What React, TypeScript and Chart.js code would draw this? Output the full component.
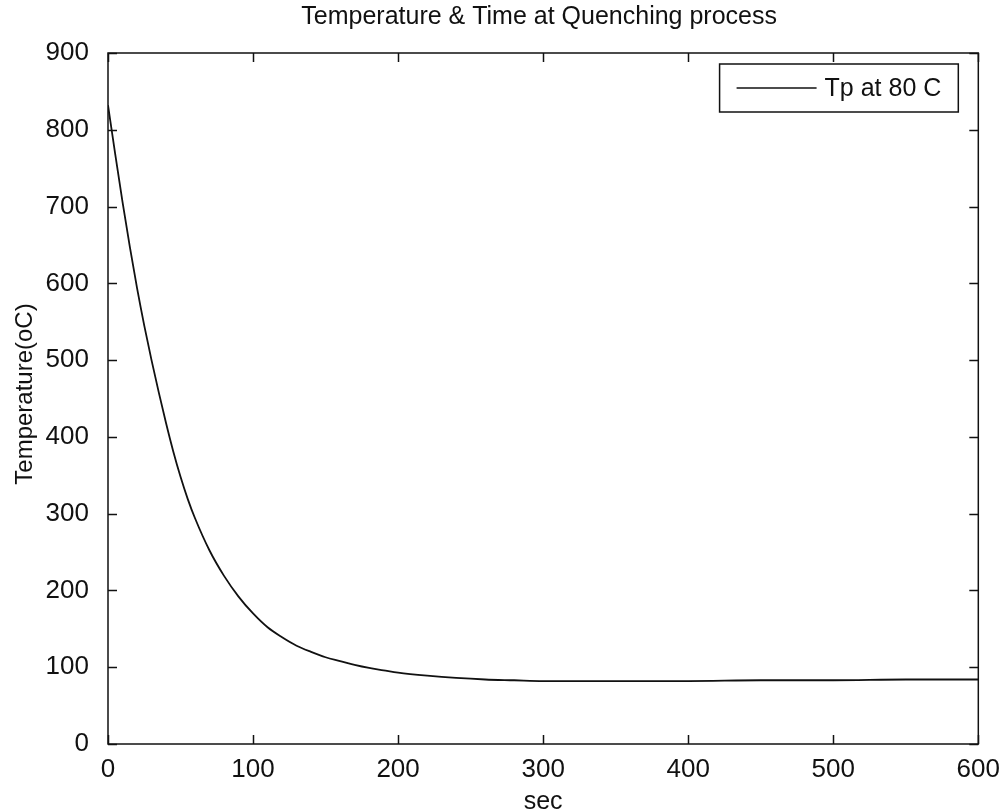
import React, { useEffect, useRef } from "react";
import { Chart, registerables } from "chart.js";

Chart.register(...registerables);

const chartTitle = "Temperature & Time at Quenching process";
const xAxisTitle = "sec";
const yAxisTitle = "Temperature(oC)";
const seriesLabel = "Tp at 80 C";

const timeSec = [
  0, 5, 10, 15, 20, 25, 30, 35, 40, 45, 50, 55, 60, 70, 80, 90, 100, 110, 120,
  130, 140, 150, 160, 170, 180, 190, 200, 220, 240, 260, 280, 300, 350, 400,
  450, 500, 550, 600,
];
const tempTp = [
  832, 768, 706, 648, 594, 545, 500, 458, 418, 381, 348, 319, 294, 252, 219,
  192, 170, 152, 139, 128, 120, 113, 108, 103, 99, 96, 93, 89, 86, 84, 83, 82,
  82, 82, 83, 83, 84, 84,
];
const xTicks = [0, 100, 200, 300, 400, 500, 600];
const yTicks = [0, 100, 200, 300, 400, 500, 600, 700, 800, 900];

const FONT = "'Liberation Sans', Arial, Helvetica, sans-serif";
const INK = "#111111";

const matlabPlugin = {
  id: "matlabFrame",
  afterDatasetsDraw(chart: any) {
    const { ctx, chartArea: a, scales } = chart;
    ctx.save();
    ctx.strokeStyle = INK;
    ctx.lineWidth = 1.5;
    ctx.strokeRect(a.left, a.top, a.right - a.left, a.bottom - a.top);
    const L = 9;
    ctx.beginPath();
    for (const v of xTicks) {
      const px = Math.round(scales.x.getPixelForValue(v)) + 0.5;
      ctx.moveTo(px, a.bottom);
      ctx.lineTo(px, a.bottom - L);
      ctx.moveTo(px, a.top);
      ctx.lineTo(px, a.top + L);
    }
    for (const v of yTicks) {
      const py = Math.round(scales.y.getPixelForValue(v)) + 0.5;
      ctx.moveTo(a.left, py);
      ctx.lineTo(a.left + L, py);
      ctx.moveTo(a.right, py);
      ctx.lineTo(a.right - L, py);
    }
    ctx.stroke();

    // legend (inside, north-east)
    const label = chart.data.datasets[0].label as string;
    ctx.font = `25px ${FONT}`;
    const tw = ctx.measureText(label).width;
    const padL = 17, lineLen = 80, gap = 8, padR = 17;
    const bw = padL + lineLen + gap + tw + padR;
    const bh = 48;
    const bx = a.right - 20 - bw;
    const by = a.top + 11;
    ctx.fillStyle = "#ffffff";
    ctx.fillRect(bx, by, bw, bh);
    ctx.lineWidth = 1.5;
    ctx.strokeRect(bx, by, bw, bh);
    const cy = by + bh / 2;
    ctx.beginPath();
    ctx.lineWidth = 1.3;
    ctx.moveTo(bx + padL, cy);
    ctx.lineTo(bx + padL + lineLen, cy);
    ctx.stroke();
    ctx.fillStyle = INK;
    ctx.textAlign = "left";
    ctx.textBaseline = "middle";
    ctx.fillText(label, bx + padL + lineLen + gap, cy + 1);

    // titles
    const cx = (a.left + a.right) / 2;
    ctx.textAlign = "center";
    ctx.font = `25px ${FONT}`;
    ctx.fillText(chartTitle, cx - 4, 17);
    ctx.font = `25px ${FONT}`;
    ctx.fillText(xAxisTitle, cx, 802);
    ctx.save();
    ctx.translate(25, 394);
    ctx.rotate(-Math.PI / 2);
    ctx.font = `24px ${FONT}`;
    ctx.fillText(yAxisTitle, 0, 0);
    ctx.restore();
    ctx.restore();
  },
};

export default function App() {
  const ref = useRef<HTMLCanvasElement | null>(null);
  useEffect(() => {
    if (!ref.current) return;
    const chart = new Chart(ref.current, {
      type: "line",
      data: {
        datasets: [
          {
            label: seriesLabel,
            data: timeSec.map((t, i) => ({ x: t, y: tempTp[i] })),
            borderColor: INK,
            borderWidth: 1.8,
            pointRadius: 0,
            fill: false,
            cubicInterpolationMode: "monotone",
          },
        ],
      },
      options: {
        responsive: false,
        animation: false,
        layout: { padding: { top: 53, right: 20, left: 0, bottom: 0 } },
        plugins: {
          legend: { display: false },
          title: { display: false },
          tooltip: { enabled: false },
        },
        scales: {
          x: {
            type: "linear",
            min: 0,
            max: 600,
            afterBuildTicks: (s: any) => {
              s.ticks = xTicks.map((v) => ({ value: v }));
            },
            afterFit: (s: any) => {
              s.height = 68;
            },
            grid: { display: false },
            border: { display: false },
            ticks: {
              color: INK,
              padding: 2,
              maxRotation: 0,
              autoSkip: false,
              font: { family: FONT, size: 26 },
            },
          },
          y: {
            type: "linear",
            min: 0,
            max: 900,
            afterBuildTicks: (s: any) => {
              s.ticks = yTicks.map((v) => ({ value: v }));
            },
            afterFit: (s: any) => {
              s.width = 108;
            },
            grid: { display: false },
            border: { display: false },
            ticks: {
              color: INK,
              padding: 11,
              autoSkip: false,
              font: { family: FONT, size: 26 },
            },
          },
        },
      },
      plugins: [matlabPlugin],
    });
    return () => chart.destroy();
  }, []);
  return (
    <div style={{ position: "absolute", left: 0, top: 0, width: 1002, height: 812, background: "#fff" }}>
      <canvas ref={ref} width={1002} height={812} style={{ display: "block" }} />
    </div>
  );
}
